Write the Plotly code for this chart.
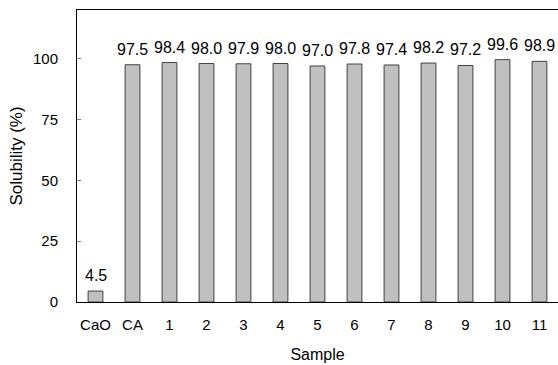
import plotly.graph_objects as go

samples = ["CaO", "CA", "1", "2", "3", "4", "5", "6", "7", "8", "9", "10", "11"]
solubility = [4.5, 97.5, 98.4, 98.0, 97.9, 98.0, 97.0, 97.8, 97.4, 98.2, 97.2, 99.6, 98.9]
y_ticks = [0, 25, 50, 75, 100]

font = "Liberation Sans, Arial, sans-serif"

fig = go.Figure(go.Bar(
    x=samples, y=solubility,
    width=0.4,
    marker=dict(color="#c0c0c0", line=dict(color="#404040", width=1)),
    hoverinfo="skip",
))

# category axis: annotations placed by category index
for i, v in enumerate(solubility):
    fig.add_annotation(
        x=i, y=v, text=f"{v:.1f}", showarrow=False,
        yanchor="bottom", yshift=5,
        font=dict(family=font, size=16, color="black"),
    )

fig.update_layout(
    width=558, height=365,
    margin=dict(l=77, r=0, t=10, b=63),
    paper_bgcolor="white", plot_bgcolor="white",
    showlegend=False,
    font=dict(family=font, size=15, color="black"),
    xaxis=dict(
        title=dict(text="Sample", font=dict(size=16), standoff=16),
        showline=True, linecolor="black", linewidth=1, mirror=True,
        ticks="", showgrid=False, range=[-0.5, 12.5],
        tickfont=dict(size=15), ticklabelstandoff=9,
    ),
    yaxis=dict(
        title=dict(text="Solubility (%)", font=dict(size=17), standoff=6),
        showline=True, linecolor="black", linewidth=1,
        range=[0, 120], tickvals=y_ticks,
        ticks="inside", ticklen=4, tickcolor="#808080",
        showgrid=False, zeroline=False,
        tickfont=dict(size=15), ticklabelstandoff=15,
    ),
)

fig.write_html(
    "out.html",
    config={"displayModeBar": False},
    post_script="document.body.style.margin='0';document.body.style.overflow='hidden';",
)
